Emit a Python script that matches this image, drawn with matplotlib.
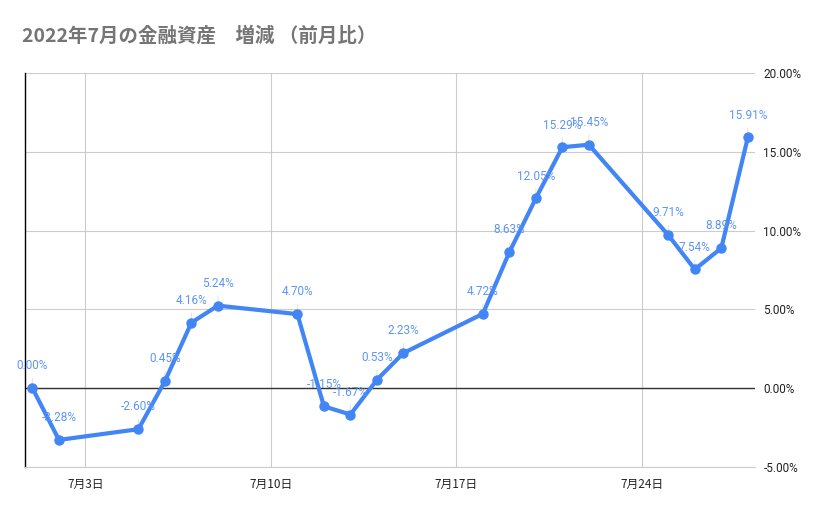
import matplotlib
matplotlib.use('Agg')
import matplotlib.pyplot as plt
from matplotlib.ticker import FuncFormatter

plt.rcParams['font.family'] = ['Noto Sans CJK JP', 'DejaVu Sans']

# day of July, change vs previous month (%)
days = [1, 2, 5, 6, 7, 8, 11, 12, 13, 14, 15, 18, 19, 20, 21, 22, 25, 26, 27, 28]
values = [0.00, -3.28, -2.60, 0.45, 4.16, 5.24, 4.70, -1.15, -1.67, 0.53, 2.23,
          4.72, 8.63, 12.05, 15.29, 15.45, 9.71, 7.54, 8.89, 15.91]
tick_days = [3, 10, 17, 24]
tick_labels = ['7月%d日' % d for d in tick_days]
y_ticks = [-5, 0, 5, 10, 15, 20]

blue = '#4285f4'
num_font = ['Roboto', 'Noto Sans CJK JP']

fig = plt.figure(figsize=(8.29, 5.14), dpi=100)
ax = fig.add_axes([0.0302, 0.0914, 0.8805, 0.7666])

ax.plot(days, values, color=blue, lw=3, marker='o', ms=6.5, zorder=3,
        solid_joinstyle='round')

for d, v in zip(days, values):
    ax.annotate('%.2f%%' % v, (d, v), xytext=(0, 16), textcoords='offset points',
                ha='center', va='center', fontsize=8.5, color='#5b95f5',
                family=num_font, zorder=4)
    ax.annotate('', (d, v), xytext=(0, 9), textcoords='offset points',
                arrowprops=dict(arrowstyle='-', color='#e6e6e6', lw=0.8), zorder=1)

ax.set_xlim(0.72, 28.27)
ax.set_ylim(-5, 20)
ax.set_xticks(tick_days)
ax.set_xticklabels(tick_labels)
ax.set_yticks(y_ticks)
ax.yaxis.set_major_formatter(FuncFormatter(lambda v, p: '%.2f%%' % v))
ax.yaxis.tick_right()
ax.tick_params(length=0, labelsize=8.5, colors='#222222', pad=6)
ax.tick_params(axis='x', pad=8)
for lbl in ax.get_yticklabels():
    lbl.set_family(num_font)

ax.grid(True, color='#cccccc', lw=0.8)
ax.set_axisbelow(True)
ax.axhline(0, color='#333333', lw=1, zorder=2)
for s in ['top', 'right']:
    ax.spines[s].set_visible(False)
ax.spines['bottom'].set_color('#cccccc')
ax.spines['left'].set_color('#000000')
ax.spines['left'].set_linewidth(1)

fig.text(0.026, 0.930, '2022年7月の金融資産　増減 （前月比）', fontsize=14,
         fontweight='bold', color='#757575', va='center', ha='left')

fig.savefig('out.png', dpi=100, facecolor='white')
